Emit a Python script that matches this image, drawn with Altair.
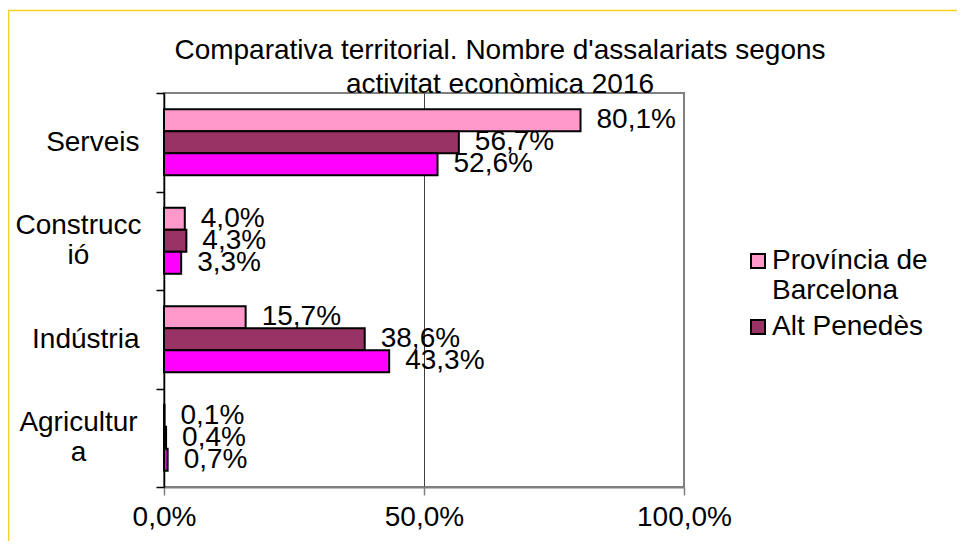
import altair as alt
import pandas as pd

categories = ["Serveis", "Construcció", "Indústria", "Agricultura"]
series = ["Província de Barcelona", "Alt Penedès", "Vilafranca del Penedès"]
prov_bcn = [80.1, 4.0, 15.7, 0.1]
alt_penedes = [56.7, 4.3, 38.6, 0.4]
third_series = [52.6, 3.3, 43.3, 0.7]
colors = ["#FF99CC", "#993366", "#FF00FF"]
x_ticks = [0, 50, 100]
title_lines = ["Comparativa territorial. Nombre d'assalariats segons", "activitat econòmica 2016"]

rows = []
for s, vals in zip(series, [prov_bcn, alt_penedes, third_series]):
    for c, v in zip(categories, vals):
        rows.append({"cat": c, "serie": s, "val": v,
                     "lbl": f"{v:.1f}".replace(".", ",") + "%"})
df = pd.DataFrame(rows)

FONT = "Liberation Sans"
FS = 28

multi_test = "datum.value == 'Construcció' || datum.value == 'Agricultura'"
y_label_expr = (
    "datum.value == 'Construcció' ? ['Construcc', 'ió'] : "
    "datum.value == 'Agricultura' ? ['Agricultur', 'a'] : datum.value"
)

y_enc = alt.Y(
    "cat:N", sort=categories,
    scale=alt.Scale(paddingInner=0, paddingOuter=0),
    axis=alt.Axis(title=None, tickBand="extent", labelExpr=y_label_expr,
                  labelFontSize=FS, labelFont=FONT, labelColor="black",
                  labelPadding={"condition": {"test": multi_test, "value": 78}, "value": 17},
                  labelAlign={"condition": {"test": multi_test, "value": "center"}, "value": "right"},
                  labelOffset={"condition": {"test": multi_test, "value": -15}, "value": 0},
                  labelLineHeight=30,
                  tickSize=8, tickColor="black", domainColor="black",
                  domainWidth=1.5, tickWidth=1.5, labelLimit=0),
)
yo_enc = alt.YOffset("serie:N", sort=series,
                     scale=alt.Scale(paddingOuter=0.74, paddingInner=0))

x_enc = alt.X(
    "val:Q", scale=alt.Scale(domain=[0, 100], nice=False),
    axis=alt.Axis(title=None, values=x_ticks, labelFlush=False,
                  labelExpr="replace(format(datum.value, '.1f'), '.', ',') + '%'",
                  labelFontSize=FS, labelFont=FONT, labelColor="black",
                  labelPadding=8, tickSize=8, tickColor="#808080",
                  domainColor="#808080", domainWidth=2, tickWidth=1.5,
                  grid=True,
                  gridColor={"condition": {"test": "datum.value == 50", "value": "#404040"},
                             "value": "transparent"},
                  gridWidth=1),
)

bars = alt.Chart(df).mark_bar(stroke="black", strokeWidth=2).encode(
    x=x_enc, y=y_enc, yOffset=yo_enc,
    color=alt.Color(
        "serie:N",
        scale=alt.Scale(domain=series, range=colors),
        legend=alt.Legend(
            title=None, values=series[:2], orient="none",
            legendX=580, legendY=154,
            labelExpr="datum.label == 'Província de Barcelona' ? ['Província de', 'Barcelona'] : datum.label",
            labelFontSize=FS, labelFont=FONT, labelColor="black", labelLimit=0,
            symbolType="square", symbolSize=196,
            symbolStrokeColor="black", symbolStrokeWidth=2, rowPadding=8,
            labelOffset=0,
        ),
    ),
)

labels = alt.Chart(df).mark_text(
    align="left", baseline="middle", dx=16, fontSize=FS, font=FONT, color="black"
).encode(x="val:Q", y=alt.Y("cat:N", sort=categories),
         yOffset=alt.YOffset("serie:N", sort=series), text="lbl:N")

title = alt.Chart(pd.DataFrame({"a": [0]})).mark_text(
    text=title_lines, align="center", baseline="alphabetic", lineHeight=34,
    fontSize=FS, font=FONT, color="black"
).encode(x=alt.value(336), y=alt.value(-34.5))

frame = alt.Chart(pd.DataFrame({"a": [0]})).mark_rect(
    fillOpacity=0, stroke="#F5D020", strokeWidth=1.5
).encode(x=alt.value(-155.5), x2=alt.value(900), y=alt.value(-82.5), y2=alt.value(700))

chart = alt.layer(frame, bars, labels, title).properties(
    width=520, height=394,
    autosize=alt.AutoSizeParams(type="none"),
    padding={"left": 156, "top": 85, "right": 273, "bottom": 54},
).configure_view(stroke="#808080", strokeWidth=2)

chart.save("out.html", embed_options={"renderer": "svg", "actions": False})
